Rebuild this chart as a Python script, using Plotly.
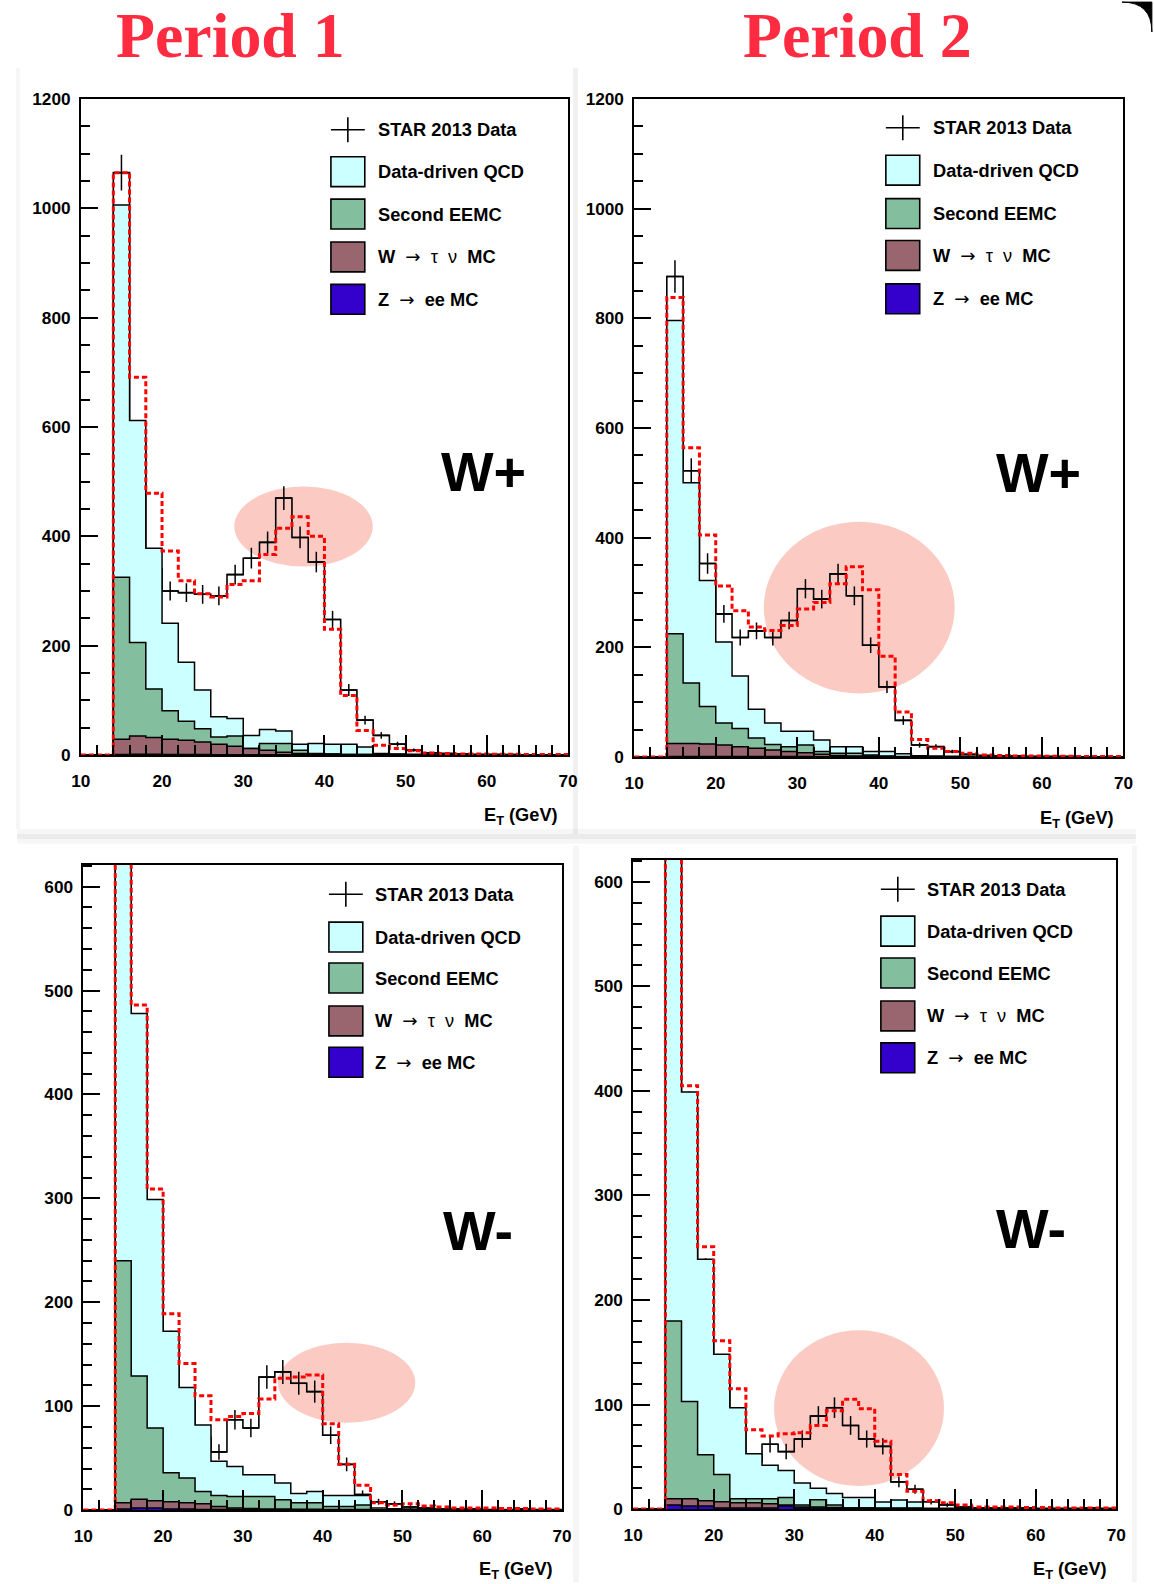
import math
import plotly.graph_objects as go

# The photographed page is a 1170x1600 capture (8 px body margin on every side)
# scaled to 1154x1584. Reference pixel positions are mapped through that.
REF_W, REF_H = 1154, 1584
OFF = 8
SX = (REF_W + 2 * OFF) / REF_W
SY = (REF_H + 2 * OFF) / REF_H
W, H = REF_W, REF_H
K = SX  # size compensation for fonts / tick lengths

# ---------------- data (bins of 2 GeV from 10 to 70) ----------------
EDGES = list(range(10, 71, 2))
CENTERS = [e + 1 for e in EDGES[:-1]]

# Period 1, W+
p1_data = [0, 0, 1065, 580, 340, 300, 297, 294, 291, 330, 360, 389, 470, 398, 353, 248, 119, 64, 36, 20, 9, 4, 3, 2, 1, 1, 1, 0, 0, 0]
p1_pred = [0, 0, 1065, 691, 479, 373, 319, 295, 289, 312, 319, 367, 415, 436, 400, 230, 109, 45, 18, 12, 8, 4, 3, 2, 2, 1.5, 1.5, 1, 1, 1]
p1_qcd = [0, 0, 681, 406, 257, 160, 108, 71, 37, 32, 24, 26, 23, 11, 18, 18, 19, 14, 2, 1, 1, 0.5, 0.5, 0.5, 0.5, 0.5, 0.2, 0.2, 0.2, 0.2]
p1_eemc = [0, 0, 296, 171, 89, 52, 35, 24, 13, 19, 0, 12, 16, 6, 1, 0, 0, 0, 0, 0, 0, 0, 0, 0, 0, 0, 0, 0, 0, 0]
p1_wtau = [0, 0, 28, 33.5, 30.5, 28, 26, 23, 19.5, 15.5, 11.5, 8.5, 4.5, 2.5, 1.5, 1.5, 0.5, 0.5, 0.5, 0.5, 0.2, 0.2, 0.2, 0.2, 0.2, 0.2, 0.1, 0.1, 0.1, 0.1]
p1_zee = [0, 0, 1, 1.5, 1.5, 1, 1, 1, 0.5, 0.5, 0.5, 0.5, 0.5, 0.5, 0.5, 0.5, 0.5, 0.5, 0.5, 0.5, 0.3, 0.3, 0.3, 0.3, 0.3, 0.3, 0.3, 0.3, 0.3, 0.3]

# Period 2, W+
p2_data = [0, 0, 876, 522, 353, 261, 218, 230, 218, 249, 307, 288, 334, 294, 204, 128, 67, 22, 19, 10, 5, 3, 2, 2, 1, 1, 1, 0, 0, 0]
p2_pred = [0, 0, 838, 564, 405, 312, 267, 237, 231, 240, 270, 282, 316, 347, 305, 184, 82, 32, 16, 10, 7, 4, 3, 2, 2, 1.5, 1.5, 1, 1, 1]
p2_qcd = [0, 0, 571, 365, 230, 148, 96, 52, 39, 28, 25, 21, 12, 12, 6, 8, 5, 2, 1.5, 1, 1, 0.5, 0.5, 0.5, 0.5, 0.5, 0.5, 0.3, 0.3, 0.3]
p2_eemc = [0, 0, 200, 110, 68, 40, 33, 19, 10, 9, 14, 5, 4, 5, 2, 1, 0.5, 0, 0, 0, 0, 0, 0, 0, 0, 0, 0, 0, 0, 0]
p2_wtau = [0, 0, 24, 24, 23, 21, 18, 15, 12, 9, 7, 4.5, 2.5, 1.5, 1.5, 0.5, 0.3, 0.2, 0.1, 0.1, 0.1, 0.1, 0.1, 0.1, 0.1, 0.1, 0.1, 0.1, 0.1, 0.1]
p2_zee = [0, 0, 1, 1, 1, 1, 1, 1, 1, 1, 1, 0.5, 0.5, 0.5, 0.5, 0.5, 0.5, 0.3, 0.3, 0.3, 0.3, 0.3, 0.3, 0.3, 0.3, 0.3, 0.3, 0.3, 0.3, 0.3]

# Period 1, W-
p3_data = [0, 0, 800, 455, 280, 160, 105, 70, 56, 87, 79, 128, 133, 122, 114, 72, 44, 15, 8, 6, 3, 2, 1, 1, 1, 0, 0, 1, 0, 0]
p3_pred = [0, 0, 850, 486, 309, 189, 141, 110, 87, 90, 93, 107, 127, 128, 130, 83, 44, 24, 7, 5, 6, 4, 3, 2, 2, 2, 1.5, 1.5, 1, 1]
p3_qcd = [0, 0, 580, 349, 220, 136, 87, 64, 33, 29, 21, 21, 16, 9, 11, 10.5, 10.5, 9, 1.7, 1, 0.8, 0.5, 0.5, 0.5, 0.3, 0.3, 0.3, 0.3, 0.3, 0.3]
p3_eemc = [0, 0, 233, 118.5, 70, 28, 24, 12, 10.5, 11, 11.5, 12, 9, 6.2, 6.2, 2.9, 2.9, 4.4, 0, 0, 0, 0, 0, 0, 0, 0, 0, 0, 0, 0]
p3_wtau = [0, 0, 6, 8.5, 7, 7, 6, 5.5, 3, 1.5, 1.2, 0.7, 0.7, 0.5, 0.5, 0.3, 0.3, 0.3, 0.1, 0.1, 0.1, 0.1, 0.1, 0.1, 0.1, 0.1, 0.1, 0.1, 0.1, 0.1]
p3_zee = [0, 0, 1, 2, 2, 1, 1, 0.5, 0.5, 0.5, 0.3, 0.3, 0.3, 0.3, 0.3, 0.3, 0.3, 0.3, 0.2, 0.2, 0.1, 0.1, 0.1, 0.1, 0.1, 0.1, 0.1, 0.1, 0.1, 0.1]

# Period 2, W-
p4_data = [0, 0, 680, 380, 225, 135, 85, 45, 62, 55, 67, 89, 97, 80, 67, 60, 26, 19, 7, 4, 2, 1, 1, 1, 1, 0, 0, 0, 1, 0]
p4_pred = [0, 0, 720, 405, 251, 161, 115, 76, 70, 72, 73, 80, 94, 105, 96, 65, 33, 17, 8, 6, 4, 2, 2, 2, 1.5, 1.5, 1, 1, 1, 1]
p4_qcd = [0, 0, 520, 296, 187, 115, 87, 43, 32, 26, 21, 11, 11, 10, 10, 6, 8, 6, 0.5, 0.5, 0.5, 0.5, 0.5, 0.5, 0.5, 0.5, 0.5, 0.5, 0.5, 0.5]
p4_eemc = [0, 0, 170, 93, 44, 26, 4, 4, 5, 7, 2, 7, 2.5, 0, 0, 0, 0, 0, 0, 0, 0, 0, 0, 0, 0, 0, 0, 0, 0, 0]
p4_wtau = [0, 0, 6, 7, 5, 6, 5, 5, 4, 1, 1, 1, 1, 0.5, 0.5, 0.3, 0.3, 0.3, 0.1, 0.1, 0.1, 0.1, 0.1, 0.1, 0.1, 0.1, 0.1, 0.1, 0.1, 0.1]
p4_zee = [0, 0, 4, 3, 3, 1, 1, 1, 1, 3, 1, 1, 0.5, 0.5, 0.5, 0.5, 0.5, 0.5, 0.3, 0.3, 0.3, 0.3, 0.3, 0.3, 0.3, 0.3, 0.3, 0.3, 0.3, 0.3]

period_titles = ["Period 1", "Period 2"]
ARROW = '<span style="font-family:DejaVu Sans;font-weight:normal">→</span>'
GREEK_T = '<span style="font-weight:normal">τ</span>'
GREEK_N = '<span style="font-weight:normal">ν</span>'
legend_labels = ["STAR 2013 Data", "Data-driven QCD", "Second EEMC",
                 f"W\u00a0\u00a0{ARROW}\u00a0\u00a0{GREEK_T}\u00a0\u00a0{GREEK_N}\u00a0\u00a0MC",
                 f"Z\u00a0\u00a0{ARROW}\u00a0\u00a0ee MC"]
charge_labels = ["W+", "W+", "W-", "W-"]

# ---------------- style ----------------
C_QCD = "#ccffff"
C_EEMC = "#83bf9f"
C_WTAU = "#996670"
C_ZEE = "#3300cc"
C_PRED = "#ff0000"
TITLE_RED = "#ff2b40"
FONT = "Liberation Sans, Arial, Helvetica, sans-serif"


def X(p):
    return (p * SX - OFF) / W


def Y(p):
    return 1 - (p * SY - OFF) / H


panels = [
    dict(data=p1_data, pred=p1_pred, qcd=p1_qcd, eemc=p1_eemc, wtau=p1_wtau, zee=p1_zee,
         xdom=(79, 568), ydom=(97, 755), ymax=1200, ydt=200, ymin=50,
         ell=(28.9, 45.95, 345, 491), lab=(483, 471),
         leg=dict(cx=347, tx=375, rows=[128, 170, 212.5, 255.5, 298]), xt=(560, 816)),
    dict(data=p2_data, pred=p2_pred, qcd=p2_qcd, eemc=p2_eemc, wtau=p2_wtau, zee=p2_zee,
         xdom=(634.4, 1125.5), ydom=(97, 757), ymax=1200, ydt=200, ymin=50,
         ell=(25.9, 49.3, 116, 429), lab=(1040, 472),
         leg=dict(cx=904, tx=932, rows=[126, 168.5, 212, 254, 297.5]), xt=(1118, 819)),
    dict(data=p3_data, pred=p3_pred, qcd=p3_qcd, eemc=p3_eemc, wtau=p3_wtau, zee=p3_zee,
         xdom=(81.5, 562), ydom=(865, 1512), ymax=621, ydt=100, ymin=20,
         ell=(34.4, 51.6, 84, 161), lab=(478, 1232),
         leg=dict(cx=345, tx=372, rows=[894.5, 937.5, 978.5, 1021.5, 1063]), xt=(555, 1572)),
    dict(data=p4_data, pred=p4_pred, qcd=p4_qcd, eemc=p4_eemc, wtau=p4_wtau, zee=p4_zee,
         xdom=(633.4, 1118.3), ydom=(860, 1511), ymax=621, ydt=100, ymin=20,
         ell=(27.5, 48.6, 22, 171), lab=(1033, 1230),
         leg=dict(cx=899, tx=926.5, rows=[889.5, 931.5, 973.5, 1016.5, 1058.5]), xt=(1111, 1572)),
]


def step_xy(vals):
    xs = [EDGES[0]] + EDGES
    ys = [0] + list(vals) + [vals[-1]]
    return xs, ys


fig = go.Figure()
shapes = []
annotations = []
layout_axes = {}

for i, p in enumerate(panels):
    n = i + 1
    xa = "x" if n == 1 else f"x{n}"
    ya = "y" if n == 1 else f"y{n}"
    xkey = "xaxis" if n == 1 else f"xaxis{n}"
    ykey = "yaxis" if n == 1 else f"yaxis{n}"

    # data histogram outline (drawn first, as in the original)
    xs, ys = step_xy(p["data"])
    fig.add_trace(go.Scatter(x=xs, y=ys, mode="lines", xaxis=xa, yaxis=ya,
                             line=dict(color="black", width=1.6, shape="hv"),
                             hoverinfo="skip"))
    cx = [c for c, v in zip(CENTERS, p["data"]) if v > 0]
    cy = [v for v in p["data"] if v > 0]
    err = [math.sqrt(v) for v in cy]
    fig.add_trace(go.Scatter(x=cx, y=cy, mode="markers", xaxis=xa, yaxis=ya,
                             marker=dict(size=1, color="black"),
                             error_y=dict(type="data", array=err, color="black", thickness=1.5, width=0),
                             error_x=dict(type="constant", value=1, color="black", thickness=1.5, width=0),
                             hoverinfo="skip"))

    # stacked backgrounds
    s4 = list(p["zee"])
    s3 = [a + b for a, b in zip(s4, p["wtau"])]
    s2 = [a + b for a, b in zip(s3, p["eemc"])]
    s1 = [a + b for a, b in zip(s2, p["qcd"])]
    for vals, col in [(s1, C_QCD), (s2, C_EEMC), (s3, C_WTAU), (s4, C_ZEE)]:
        xs, ys = step_xy(vals)
        fig.add_trace(go.Scatter(x=xs, y=ys, mode="lines", xaxis=xa, yaxis=ya,
                                 fill="tozeroy", fillcolor=col,
                                 line=dict(color="black", width=1.5, shape="hv"),
                                 hoverinfo="skip"))

    # prediction (dashed red)
    xs, ys = step_xy(p["pred"])
    fig.add_trace(go.Scatter(x=xs, y=ys, mode="lines", xaxis=xa, yaxis=ya,
                             line=dict(color=C_PRED, width=3, shape="hv", dash="5px,3px"),
                             hoverinfo="skip"))

    x0p, x1p = p["xdom"]
    y0p, y1p = p["ydom"]
    tickfont = dict(family=FONT, size=17 * K, color="black", weight="bold")
    layout_axes[xkey] = dict(domain=[X(x0p), X(x1p)], range=[10, 70], anchor=ya,
                             tickmode="linear", tick0=10, dtick=10,
                             ticks="inside", ticklen=20 * K, tickwidth=1.5, tickcolor="black",
                             minor=dict(dtick=2, ticks="inside", ticklen=10 * K, tickwidth=1.5, tickcolor="black"),
                             showline=True, linecolor="black", linewidth=1.6, mirror=True,
                             showgrid=False, zeroline=False, tickfont=tickfont,
                             ticklabelstandoff=9, fixedrange=True)
    layout_axes[ykey] = dict(domain=[Y(y1p), Y(y0p)], range=[0, p["ymax"]], anchor=xa,
                             tickmode="linear", tick0=0, dtick=p["ydt"],
                             ticks="inside", ticklen=17 * K, tickwidth=1.5, tickcolor="black",
                             minor=dict(dtick=p["ymin"], ticks="inside", ticklen=9 * K, tickwidth=1.5, tickcolor="black"),
                             showline=True, linecolor="black", linewidth=1.6, mirror=True,
                             showgrid=False, zeroline=False, tickfont=tickfont,
                             ticklabelstandoff=5, fixedrange=True)

    # highlight ellipse
    ex0, ex1, ey0, ey1 = p["ell"]
    shapes.append(dict(type="circle", xref=xa, yref=ya, x0=ex0, x1=ex1, y0=ey0, y1=ey1,
                       fillcolor="rgba(240,100,80,0.34)", line=dict(width=0), layer="below"))

    # W+/W- label
    lx, ly = p["lab"]
    annotations.append(dict(x=X(lx), y=Y(ly), xref="paper", yref="paper", showarrow=False,
                            text=f"<b>{charge_labels[i]}</b>", xanchor="center", yanchor="middle",
                            font=dict(family=FONT, size=55 * K, color="black")))

    # x-axis title
    tx, ty = p["xt"]
    annotations.append(dict(x=X(tx), y=Y(ty), xref="paper", yref="paper", showarrow=False,
                            text="<b>E<sub>T</sub> (GeV)</b>", xanchor="right", yanchor="middle",
                            font=dict(family=FONT, size=18 * K, color="black")))

    # legend
    lg = p["leg"]
    cxl = lg["cx"]
    r0 = lg["rows"][0]
    shapes.append(dict(type="line", xref="paper", yref="paper", x0=X(cxl - 17), x1=X(cxl + 17),
                       y0=Y(r0), y1=Y(r0), line=dict(color="black", width=1.6)))
    shapes.append(dict(type="line", xref="paper", yref="paper", x0=X(cxl), x1=X(cxl),
                       y0=Y(r0 - 12.5), y1=Y(r0 + 12.5), line=dict(color="black", width=1.6)))
    for r, col in zip(lg["rows"][1:], [C_QCD, C_EEMC, C_WTAU, C_ZEE]):
        shapes.append(dict(type="rect", xref="paper", yref="paper",
                           x0=X(cxl - 17), x1=X(cxl + 17), y0=Y(r + 15), y1=Y(r - 15),
                           fillcolor=col, line=dict(color="black", width=1.6)))
    for r, txt in zip(lg["rows"], legend_labels):
        annotations.append(dict(x=X(lg["tx"]), y=Y(r), xref="paper", yref="paper", showarrow=False,
                                text=f"<b>{txt}</b>", xanchor="left", yanchor="middle",
                                font=dict(family=FONT, size=18 * K, color="black")))

# Period titles
for txt, cxp in zip(period_titles, [229.5, 859]):
    annotations.append(dict(x=X(cxp), y=Y(33), xref="paper", yref="paper", showarrow=False,
                            text=f"<b>{txt}</b>", xanchor="center", yanchor="middle",
                            font=dict(family="Liberation Serif, Times New Roman, serif", size=63 * K,
                                      color=TITLE_RED)))


# card shadows / slide corner (decoration)
def prect(x0, x1, y0, y1, col):
    return dict(type="rect", xref="paper", yref="paper", x0=X(x0), x1=X(x1), y0=Y(y1), y1=Y(y0),
                fillcolor=col, line=dict(width=0), layer="below")


shapes += [
    prect(573, 578, 66, 834, "rgba(0,0,0,0.06)"),
    prect(573, 579, 846, 1584, "rgba(0,0,0,0.04)"),
    prect(15, 1138, 829, 834, "rgba(0,0,0,0.035)"),
    prect(15, 1138, 834, 839, "rgba(0,0,0,0.08)"),
    prect(15, 1138, 839, 844, "rgba(0,0,0,0.035)"),
    prect(14, 18, 66, 829, "rgba(0,0,0,0.035)"),
    prect(1134, 1139, 846, 1584, "rgba(0,0,0,0.04)"),
]
corner = (f"M {X(1124)},{Y(0)} L {X(1154)},{Y(0)} L {X(1154)},{Y(30)} "
          f"Q {X(1154)},{Y(0)} {X(1124)},{Y(0)} Z")
shapes.append(dict(type="path", xref="paper", yref="paper", path=corner,
                   fillcolor="black", line=dict(color="black", width=1)))

fig.update_layout(width=W, height=H, margin=dict(l=0, r=0, t=0, b=0),
                  paper_bgcolor="white", plot_bgcolor="white", showlegend=False,
                  shapes=shapes, annotations=annotations, **layout_axes)

fig.write_html("out.html")
